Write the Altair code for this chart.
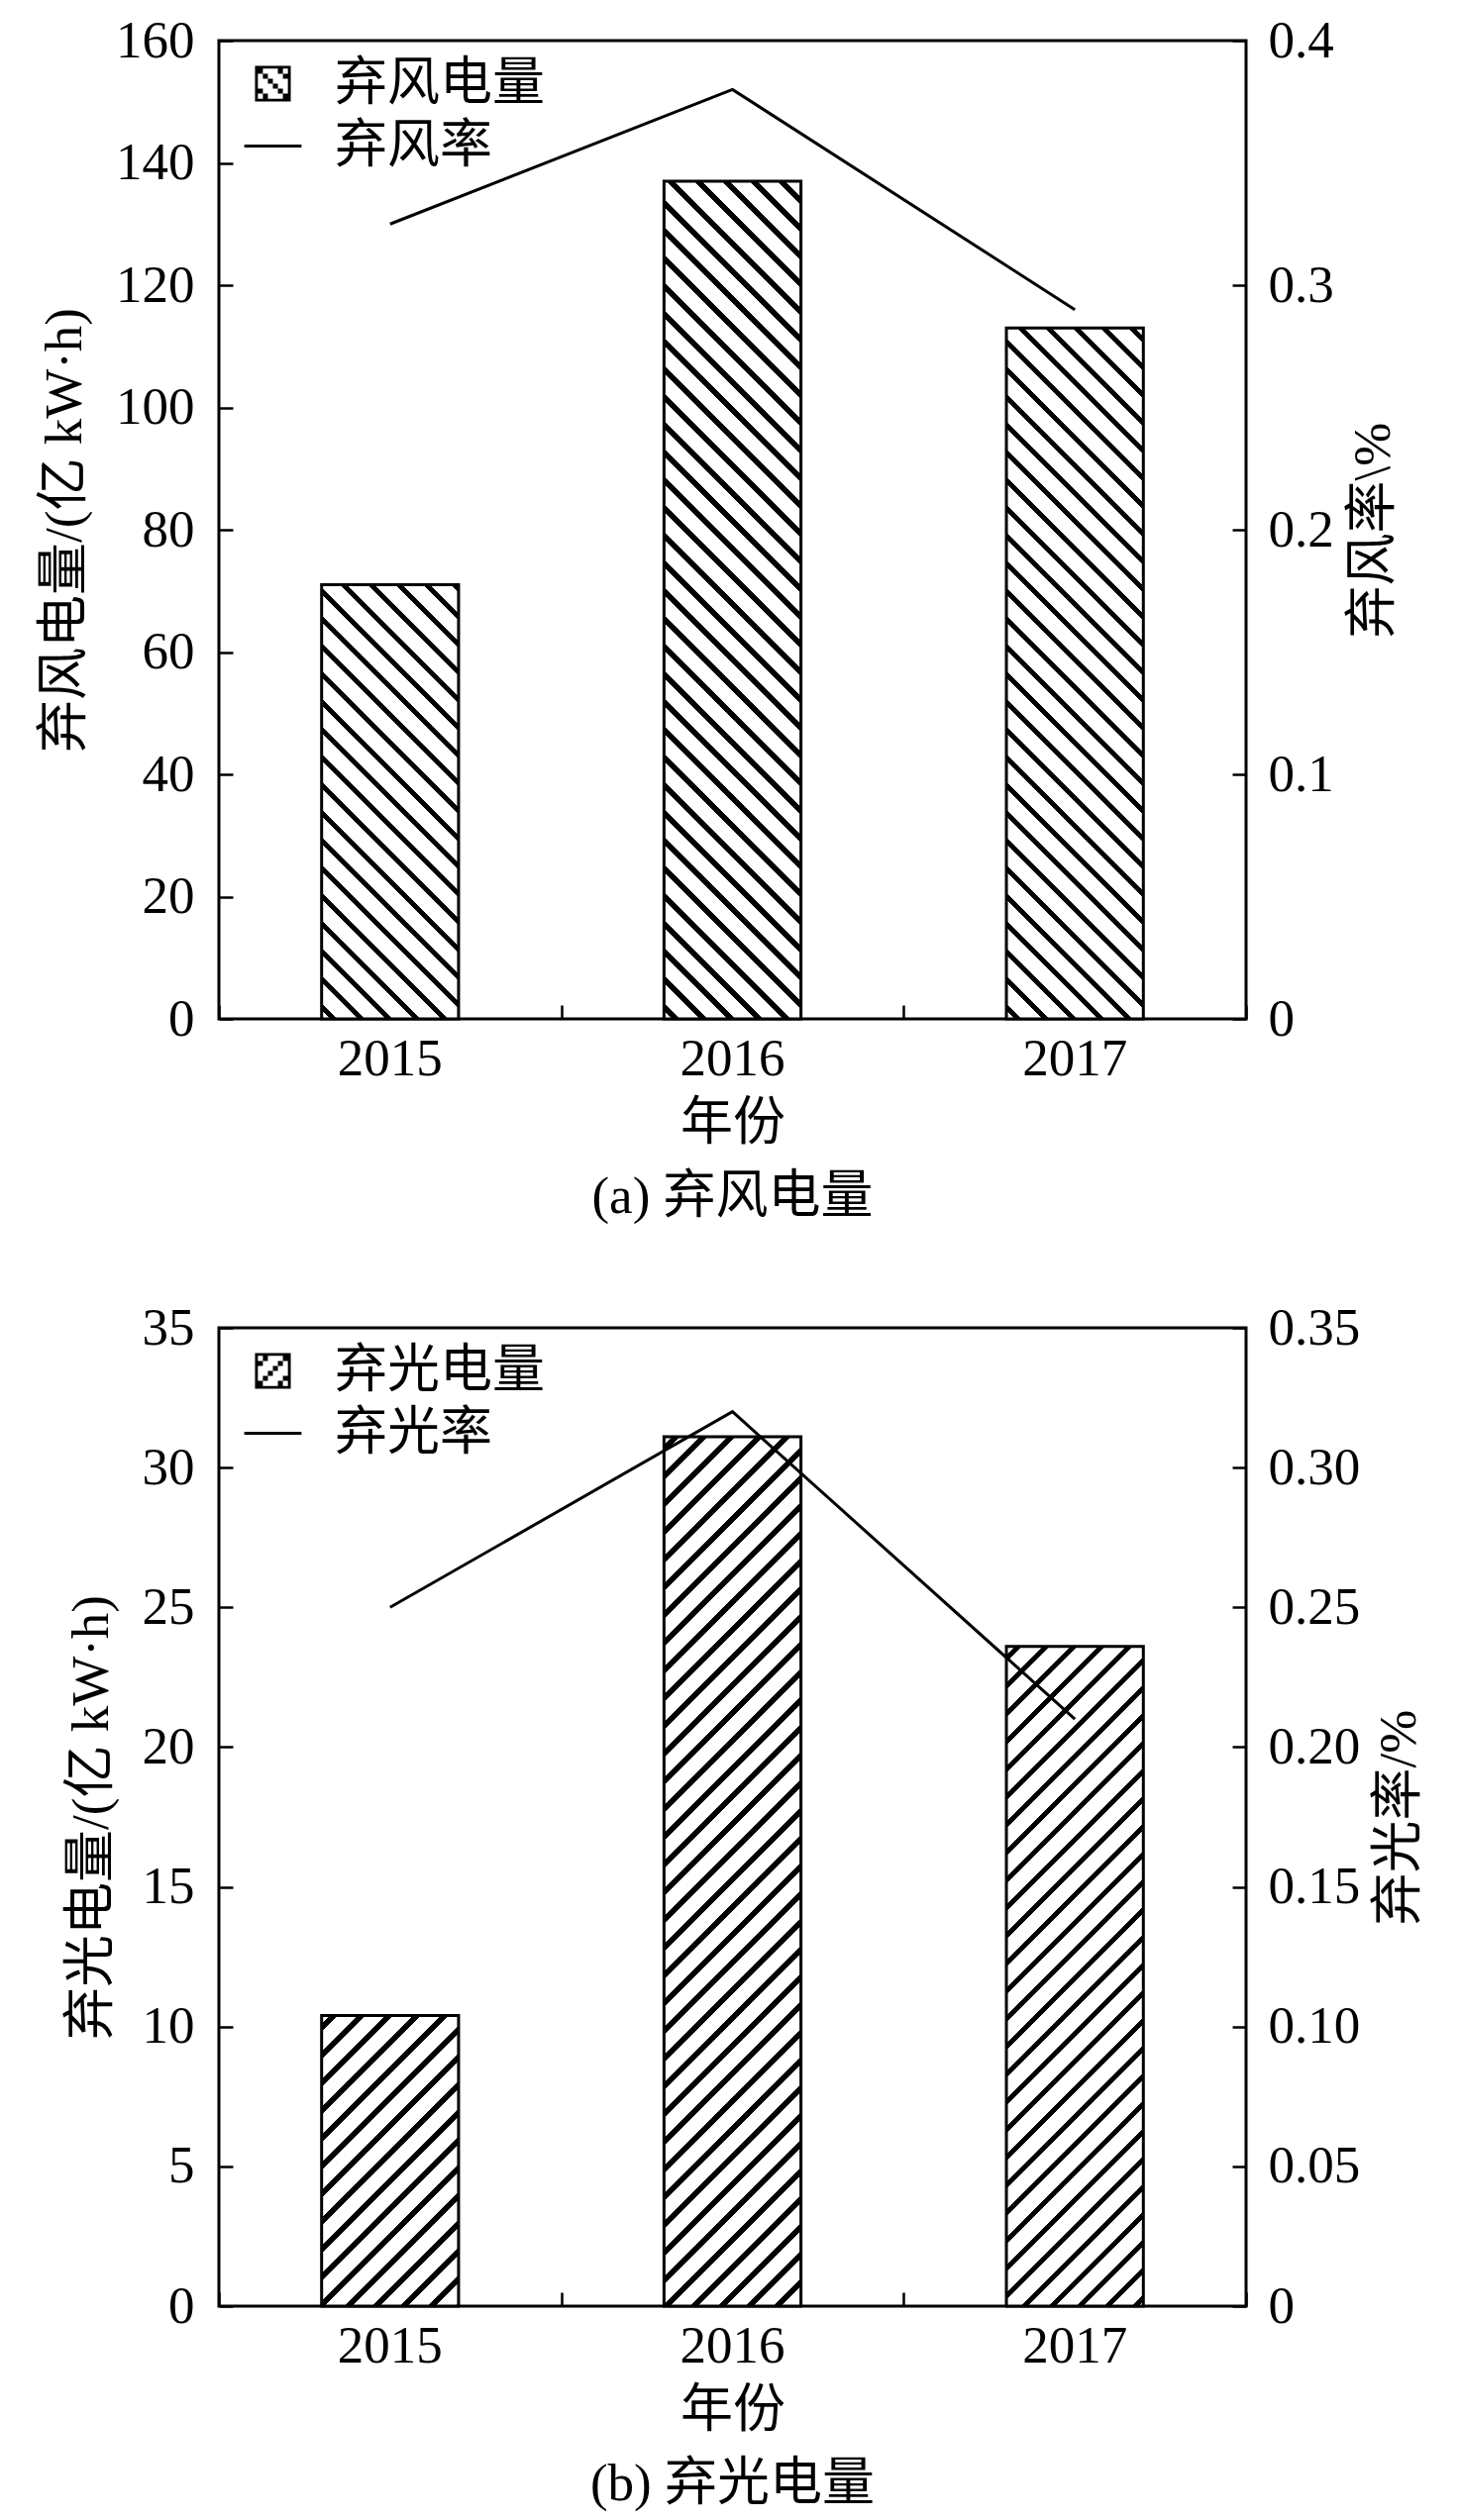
import altair as alt
import pandas as pd

# ---------------- data ----------------
years = ["2015", "2016", "2017"]
wind_amount = [71, 137, 113]          # 弃风电量 / 亿kW·h
wind_rate = [0.325, 0.38, 0.29]       # 弃风率
solar_amount = [10.4, 31.1, 23.6]     # 弃光电量 / 亿kW·h
solar_rate = [0.25, 0.32, 0.21]       # 弃光率
wind_series = ["弃风电量", "弃风率"]
solar_series = ["弃光电量", "弃光率"]
wind_left_ticks = [0, 20, 40, 60, 80, 100, 120, 140, 160]
wind_right_ticks = [0, 0.1, 0.2, 0.3, 0.4]
solar_left_ticks = [0, 5, 10, 15, 20, 25, 30, 35]
solar_right_ticks = [0, 0.05, 0.10, 0.15, 0.20, 0.25, 0.30, 0.35]

# ---------------- style ----------------
W, H = 1037, 988
FONT = "Liberation Serif, Noto Sans CJK SC"
FS = 53
BAND_FRAC = 0.4
TICK = 14
SYM = 1300


def hatch(w, h, direction, period=28.0, duty=0.27):
    """diagonal stripe fill as a linear gradient in bounding-box units"""
    r = h / w
    L2 = 1 + r * r
    if direction == "down":
        coords = dict(x1=0, y1=1, x2=1, y2=1 - r)
    else:
        coords = dict(x1=0, y1=0, x2=1, y2=r)
    tmax = min((1 + r) / L2, 1.0)
    pt = period / (w * L2)
    stops = [{"offset": 0, "color": "white"}]
    k = 0
    while True:
        s = k * pt + 0.3 * pt
        if s > tmax:
            break
        e = s + duty * pt
        for o, c in ((s, "white"), (s, "black"), (e, "black"), (e, "white")):
            stops.append({"offset": round(min(o, 1.0), 6), "color": c})
        k += 1
    stops.append({"offset": 1, "color": "white"})
    return {"gradient": "linear", **coords, "stops": stops}


def legend_square(direction):
    p = "M-1,-1H1V1H-1Z M-0.84,-0.84V0.84H0.84V-0.84Z"
    n = 6
    s = 1.68 / n
    for i in range(n):
        for j in range(n):
            on = ((i - j) % 4 == 0) if direction == "down" else ((i + j) % 4 == 1)
            if on:
                x = -0.84 + j * s
                y = -0.84 + i * s
                p += f" M{x:.3f},{y:.3f}h{s:.3f}v{s:.3f}h{-s:.3f}Z"
    return p


LEGEND_LINE = "M-1.6,-0.09H1.6V0.09H-1.6Z"


def panel(amounts, rates, names, lticks, rticks, rfmt, ltitle, rtitle, caption, direction):
    df = pd.DataFrame({"year": years, "amount": amounts, "rate": rates})
    leg = pd.DataFrame({"series": names})
    base = alt.Chart(df)
    lmax, rmax = lticks[-1], rticks[-1]
    xscale = alt.Scale(paddingInner=0, paddingOuter=0)
    yl = alt.Scale(domain=[0, lmax], nice=False, zero=True)
    yr = alt.Scale(domain=[0, rmax], nice=False, zero=True)

    bw = BAND_FRAC * W / len(years)
    grads = [hatch(bw, a / lmax * H, direction) for a in amounts]
    fill = {
        "condition": [
            {"test": f"datum.year == '{years[i]}'", "value": grads[i]}
            for i in range(len(years) - 1)
        ],
        "value": grads[-1],
    }

    bars = base.mark_bar(width=alt.RelativeBandSize(BAND_FRAC), stroke="black",
                         strokeWidth=3).encode(
        x=alt.X("year:N", title="年份", scale=xscale,
                axis=alt.Axis(labelAngle=0, ticks=False, domain=False,
                              labelPadding=14, titlePadding=12)),
        y=alt.Y("amount:Q", scale=yl, title=ltitle,
                axis=alt.Axis(values=lticks, ticks=False, domain=False,
                              labelPadding=25, titlePadding=24)),
        fill=fill,
    )
    line = base.mark_line(color="black", strokeWidth=3).encode(
        x=alt.X("year:N", scale=xscale, axis=None),
        y=alt.Y("rate:Q", scale=yr, title=rtitle,
                axis=alt.Axis(orient="right", values=rticks, ticks=False, domain=False,
                              labelExpr=f"datum.value == 0 ? '0' : format(datum.value, '{rfmt}')",
                              labelPadding=22, titlePadding=14, titleAngle=270,
                              titleBaseline="top")),
    )
    ticks_l = base.mark_bar(opacity=0).encode(
        x=alt.X("year:N", scale=xscale,
                axis=alt.Axis(orient="top", offset=-H, labels=False, domain=False,
                              tickSize=TICK, tickBand="extent", title=None)),
        y=alt.Y("amount:Q", scale=yl,
                axis=alt.Axis(orient="right", offset=-W, labels=False, domain=False,
                              tickSize=TICK, values=lticks, title=None)),
    )
    ticks_r = base.mark_line(opacity=0).encode(
        x=alt.X("year:N", scale=xscale, axis=None),
        y=alt.Y("rate:Q", scale=yr,
                axis=alt.Axis(orient="left", offset=-W, labels=False, domain=False,
                              tickSize=TICK, values=rticks, title=None)),
    )
    legend = alt.Chart(leg).mark_point(filled=True, opacity=0, size=SYM,
                                       color="black").encode(
        shape=alt.Shape("series:N", sort=names,
                        scale=alt.Scale(domain=names,
                                        range=[legend_square(direction), LEGEND_LINE]),
                        legend=alt.Legend(title=None, orient="none", legendX=28, legendY=17,
                                          symbolFillColor="black", symbolStrokeWidth=0,
                                          symbolOpacity=1, symbolSize=SYM,
                                          labelFont=FONT, labelFontSize=FS, labelColor="black",
                                          labelLimit=0, labelOffset=36, rowPadding=9,
                                          padding=0)),
    )
    return alt.layer(bars, line, ticks_l, ticks_r, legend).resolve_scale(
        y="independent"
    ).resolve_axis(x="independent", y="independent").properties(
        width=W, height=H,
        title=alt.Title(caption, orient="bottom", font=FONT, fontSize=FS,
                        fontWeight="normal", color="black", offset=22),
    )


top = panel(wind_amount, wind_rate, wind_series, wind_left_ticks, wind_right_ticks, ".1f",
            "弃风电量/(亿 kW·h)", "弃风率\\%", "(a) 弃风电量", "down")
bottom = panel(solar_amount, solar_rate, solar_series, solar_left_ticks, solar_right_ticks, ".2f",
               "弃光电量/(亿 kW·h)", "弃光率/%", "(b) 弃光电量", "up")

chart = alt.vconcat(top, bottom, spacing=75).resolve_scale(
    shape="independent"
).resolve_legend(shape="independent").properties(
    padding={"top": 5, "left": 30, "right": 5, "bottom": 5},
    background="white",
).configure_view(stroke="black", strokeWidth=3).configure_axis(
    labelFont=FONT, titleFont=FONT, labelFontSize=FS, titleFontSize=FS,
    labelColor="black", titleColor="black", titleFontWeight="normal",
    tickColor="black", tickWidth=2.5, grid=False,
)

chart.save("out.html", embed_options={"renderer": "svg", "actions": False})
